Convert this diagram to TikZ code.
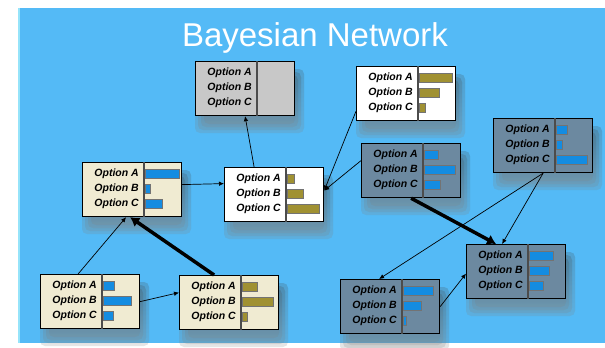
\documentclass[tikz,border=0pt]{standalone}
\usepackage{fontspec}
\newfontfamily\lab{Liberation Sans}
\usetikzlibrary{arrows.meta}
\pgfdeclarelayer{bg}
\pgfsetlayers{bg,main}
\definecolor{sky}{RGB}{84,186,246}
\definecolor{edgecyan}{RGB}{150,228,250}
\definecolor{beige}{RGB}{240,235,210}
\definecolor{slate}{RGB}{108,137,160}
\definecolor{boxgray}{RGB}{200,200,200}
\definecolor{barblue}{RGB}{20,140,225}
\definecolor{barolive}{RGB}{160,145,50}
\definecolor{shade}{RGB}{25,80,140}
\tikzset{
 bnbox/.style={draw=black, line width=1.2pt, rectangle, minimum width=99pt, minimum height=54pt, inner sep=0pt, anchor=north west},
 optlab/.style={anchor=east, inner sep=0pt, font=\lab\bfseries\itshape\fontsize{10.5}{12}\selectfont},
 divline/.style={draw=black!70, line width=1.5pt},
 bar/.style={draw=black!55, line width=0.5pt},
 arr/.style={draw=black, line width=0.7pt, -{Latex[length=5pt,width=4.5pt]}},
 thickarr/.style={draw=black, line width=3.5pt, -{Latex[length=9pt,width=11pt]}},
}
\newcommand\bnframe[4]{%
 \begin{pgfonlayer}{bg}
  \foreach \s in {0,3,6,9}{
   \fill[shade, opacity=0.11, rounded corners=5pt] (#2+\s,#3+8+\s) rectangle (#2+99+10-\s,#3+54+18-\s);
  }
 \end{pgfonlayer}
 \node[bnbox, fill=#4] (#1) at (#2,#3) {};
 \draw[divline] ([xshift=62pt]#1.north west) -- ([xshift=62pt]#1.south west);
 \node[optlab] (#1a) at ([xshift=57pt,yshift=-12pt]#1.north west) {Option A};
 \node[optlab] (#1b) at ([xshift=57pt,yshift=-27pt]#1.north west) {Option B};
 \node[optlab] (#1c) at ([xshift=57pt,yshift=-42pt]#1.north west) {Option C};
}
\newcommand\bnbars[5]{%
 \filldraw[bar, fill=#2] ([xshift=63pt,yshift=-7.5pt]#1.north west) rectangle ++(#3,9);
 \filldraw[bar, fill=#2] ([xshift=63pt,yshift=-22.5pt]#1.north west) rectangle ++(#4,9);
 \filldraw[bar, fill=#2] ([xshift=63pt,yshift=-37.5pt]#1.north west) rectangle ++(#5,9);
}
\begin{document}
\begin{tikzpicture}[x=1pt,y=-1pt]
\useasboundingbox (0,0) rectangle (605,348);
\begin{pgfonlayer}{bg}
 \fill[sky] (18,8) rectangle (605,343);
 \draw[edgecyan, line width=1.5pt] (19,8) -- (19,343);
\end{pgfonlayer}
\node[anchor=base, text=white, inner sep=0pt, font=\lab\fontsize{33}{38}\selectfont] (title) at (315,46) {Bayesian Network};

\bnframe{b1}{195}{61}{boxgray}
\bnframe{b2}{356}{66}{white}
\bnbars{b2}{barolive}{33}{20}{6}
\bnframe{b3}{82}{162}{beige}
\bnbars{b3}{barblue}{34}{5}{17}
\bnframe{b4}{224}{167}{white}
\bnbars{b4}{barolive}{7}{16}{32}
\bnframe{b5}{361}{143}{slate}
\bnbars{b5}{barblue}{14}{31}{16}
\bnframe{b6}{493}{118}{slate}
\bnbars{b6}{barblue}{11}{6}{31}
\bnframe{b7}{40}{274}{beige}
\bnbars{b7}{barblue}{11}{28}{10}
\bnframe{b8}{179}{275}{beige}
\bnbars{b8}{barolive}{15}{31}{5}
\bnframe{b9}{340}{279}{slate}
\bnbars{b9}{barblue}{30}{18}{3}
\bnframe{b10}{466}{244}{slate}
\bnbars{b10}{barblue}{24}{20}{14}

\draw[arr] ([xshift=-20pt]b4.north) -- (b1.south);
\draw[arr] ([yshift=10pt]b2.south west) -- ([yshift=4pt]b4.east);
\draw[arr] ([yshift=10pt]b5.west) -- ([yshift=4pt]b4.east);
\draw[arr] ([yshift=5pt]b3.east) -- ([yshift=11pt]b4.west);
\draw[arr] ([xshift=-12pt]b7.north) -- ([xshift=-6pt]b3.south);
\draw[thickarr] ([xshift=-15pt]b8.north) -- ([xshift=-2pt]b3.south);
\draw[arr] (b7.east) -- ([yshift=10pt]b8.west);
\draw[thickarr] (b5.south) -- ([xshift=-20pt]b10.north);
\draw[arr] (b6.south) -- ([xshift=-14pt]b10.north);
\draw[arr] (b6.south) -- ([xshift=-11pt]b9.north);
\draw[arr] (b9.east) -- ([yshift=-2pt]b10.west);
\end{tikzpicture}
\end{document}
